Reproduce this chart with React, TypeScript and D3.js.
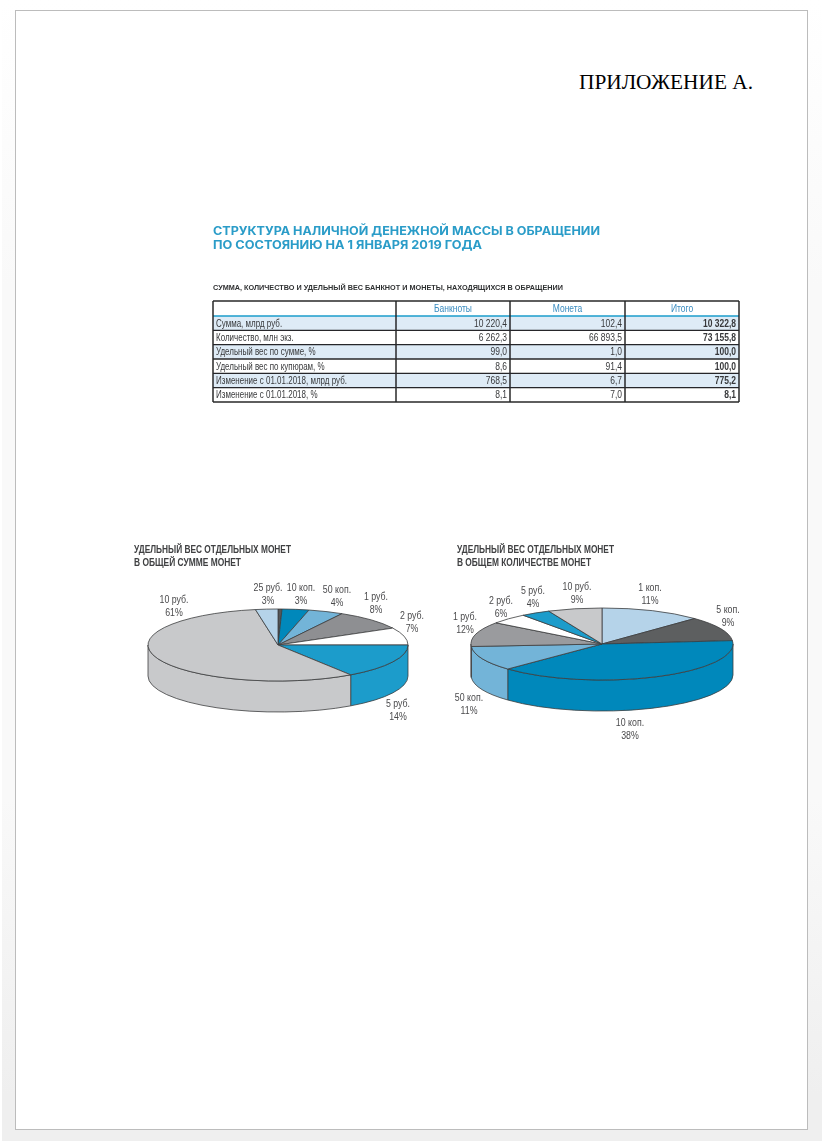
import React from 'react';
import * as d3 from 'd3';

const W = 822;
const H = 1141;

// table
const columns = ['Банкноты', 'Монета', 'Итого'];
const rowNames = [
  'Сумма, млрд руб.',
  'Количество, млн экз.',
  'Удельный вес по сумме, %',
  'Удельный вес по купюрам, %',
  'Изменение с 01.01.2018, млрд руб.',
  'Изменение с 01.01.2018, %',
];
const banknotes = ['10 220,4', '6 262,3', '99,0', '8,6', '768,5', '8,1'];
const coins = ['102,4', '66 893,5', '1,0', '91,4', '6,7', '7,0'];
const totals = ['10 322,8', '73 155,8', '100,0', '100,0', '775,2', '8,1'];

// left pie: drawn size of each slice (degrees), clockwise from the top
const sumNames = ['', '10 коп.', '50 коп.', '1 руб.', '2 руб.', '5 руб.', '10 руб.', '25 руб.'];
const sumLabels = ['', '3%', '4%', '8%', '7%', '14%', '61%', '3%'];
const sumDrawn = [1.8, 12, 15.7, 32.5, 28, 56, 204, 10];
const sumColors = ['#555658', '#0088bb', '#73b4d8', '#8e8f92', '#ffffff', '#1a9ccb', '#c8c9cb', '#b5d3e9'];
const sumLabelAt = [[0, 0], [301, 587], [337, 589], [376, 596], [412, 615], [398, 703], [174, 599], [268, 587]];

// right pie
const countNames = ['1 коп.', '5 коп.', '10 коп.', '50 коп.', '1 руб.', '2 руб.', '5 руб.', '10 руб.'];
const countLabels = ['11%', '9%', '38%', '11%', '12%', '6%', '4%', '9%'];
const countDrawn = [45, 39.6, 141.4, 40, 40, 17, 13, 24];
const countColors = ['#b5d3e9', '#5d5e60', '#0088bb', '#73b4d8', '#9a9b9e', '#ffffff', '#1a9ccb', '#c8c9cb'];
const countLabelAt = [[650, 587], [728, 609], [630, 722], [469, 697], [465, 616], [501, 600], [533, 590], [577, 586]];

const SANS = '"Liberation Sans", sans-serif';

// the original face is condensed, so squeeze Liberation Sans horizontally
const Narrow = ({ x, y, k = 0.82, children, ...rest }: any) => (
  <text transform={`translate(${x},${y}) scale(${k},1)`} {...rest}>
    {children}
  </text>
);

const Pie3D = ({ cx, cy, rx, ry, depth, drawn, colors, names, labels, labelAt }: any) => {
  const slices = d3.pie<number>().sort(null)(drawn);
  const arc = d3.arc<any>().innerRadius(0).outerRadius(rx);
  const px = (t: number) => cx + rx * Math.sin(t);
  const py = (t: number) => cy - ry * Math.cos(t);

  const wall = (a0: number, a1: number) => {
    const s = Math.max(a0, Math.PI / 2);
    const e = Math.min(a1, (Math.PI * 3) / 2);
    if (e <= s) return null;
    return (
      `M${px(s)},${py(s)} A${rx},${ry} 0 0 1 ${px(e)},${py(e)} ` +
      `L${px(e)},${py(e) + depth} A${rx},${ry} 0 0 0 ${px(s)},${py(s) + depth} Z`
    );
  };

  return (
    <g>
      {slices.map((d, i) => {
        const p = wall(d.startAngle, d.endAngle);
        return p ? <path key={i} d={p} fill={colors[i]} stroke="#3c3d3f" strokeWidth={0.8} /> : null;
      })}
      <g transform={`translate(${cx},${cy}) scale(1,${ry / rx})`}>
        {slices.map((d, i) => (
          <path
            key={i}
            d={arc(d) as string}
            fill={colors[i]}
            stroke="#3c3d3f"
            strokeWidth={0.8}
            vectorEffect="non-scaling-stroke"
          />
        ))}
      </g>
      {names.map((n: string, i: number) =>
        n ? (
          <g key={i} fontFamily={SANS} fontSize={10.5} fill="#4a4a4c" textAnchor="middle">
            <Narrow x={labelAt[i][0]} y={labelAt[i][1] + 3.5} k={0.84}>{n}</Narrow>
            <Narrow x={labelAt[i][0]} y={labelAt[i][1] + 16.5} k={0.84}>{labels[i]}</Narrow>
          </g>
        ) : null
      )}
    </g>
  );
};

const Table = () => {
  const colEdges = [213, 396, 510, 625, 739];
  const y = d3.scaleBand<string>().domain(rowNames).range([316, 402]);
  const top = 301;
  const cols = [banknotes, coins, totals];
  const lines = '#26272a';
  return (
    <g fontFamily={SANS} fontSize={10}>
      {rowNames.map((r, i) =>
        i % 2 === 0 ? (
          <rect key={r} x={colEdges[0]} y={y(r)} width={colEdges[4] - colEdges[0]} height={y.bandwidth()} fill="#deebf6" />
        ) : null
      )}
      {rowNames.slice(1).map((r) => (
        <line key={r} x1={colEdges[0]} x2={colEdges[4]} y1={y(r)} y2={y(r)} stroke={lines} strokeWidth={1.4} />
      ))}
      <line x1={colEdges[0]} x2={colEdges[4]} y1={316} y2={316} stroke="#1a9ccb" strokeWidth={1.4} />
      {colEdges.map((x) => (
        <line key={x} x1={x} x2={x} y1={top} y2={402} stroke={lines} strokeWidth={1.5} />
      ))}
      <line x1={colEdges[0]} x2={colEdges[4]} y1={top} y2={top} stroke={lines} strokeWidth={1.5} />
      <line x1={colEdges[0]} x2={colEdges[4]} y1={402} y2={402} stroke={lines} strokeWidth={1.5} />
      {columns.map((c, i) => (
        <Narrow key={c} x={(colEdges[i + 1] + colEdges[i + 2]) / 2} y={312} k={0.85} textAnchor="middle" fill="#3a8cc0">
          {c}
        </Narrow>
      ))}
      {rowNames.map((r, i) => (
        <g key={r} fill="#38393b">
          <Narrow x={216} y={(y(r) as number) + 10.8} k={0.8}>{r}</Narrow>
          {cols.map((col, j) => (
            <Narrow
              key={j}
              x={colEdges[j + 2] - 3}
              y={(y(r) as number) + 10.8}
              k={0.85}
              textAnchor="end"
              fontWeight={j === 2 ? 700 : 400}
            >
              {col[i]}
            </Narrow>
          ))}
        </g>
      ))}
    </g>
  );
};

const ChartTitle = ({ x, lines, widths }: any) => (
  <g fontFamily={SANS} fontSize={10} fontWeight={700} fill="#3f4042">
    {lines.map((l: string, i: number) => (
      <text key={l} x={x} y={553 + i * 13} textLength={widths[i]} lengthAdjust="spacingAndGlyphs">
        {l}
      </text>
    ))}
  </g>
);

export default function App() {
  return (
    <svg width={W} height={H} style={{ position: 'absolute', left: 0, top: 0 }}>
      <defs>
        <linearGradient id="pageBg" x1="0" x2="0" y1="0" y2="1">
          <stop offset="0" stopColor="#ffffff" />
          <stop offset="0.25" stopColor="#f9f9f9" />
          <stop offset="0.7" stopColor="#f9f9f9" />
          <stop offset="0.96" stopColor="#efefef" />
        </linearGradient>
        <filter id="soft" x="-5%" y="-5%" width="110%" height="110%">
          <feGaussianBlur stdDeviation="0.7" />
        </filter>
      </defs>
      <rect x={0} y={0} width={W} height={H} fill="#ffffff" />
      <rect x={2} y={0} width={W - 2} height={H} fill="url(#pageBg)" />
      <rect x={15.5} y={10.5} width={792} height={1119} fill="#ffffff" stroke="#bcbcbc" strokeWidth={1} />

      <text x={579} y={89} fontFamily='"Liberation Serif", serif' fontSize={21} fill="#000" textLength={174} lengthAdjust="spacingAndGlyphs">
        ПРИЛОЖЕНИЕ А.
      </text>

      <g filter="url(#soft)">
        <g fontFamily='Inter, sans-serif' fontSize={11.5} fontWeight={700} fill="#2a9cc8">
          <text x={213} y={235} textLength={387} lengthAdjust="spacingAndGlyphs">СТРУКТУРА НАЛИЧНОЙ ДЕНЕЖНОЙ МАССЫ В ОБРАЩЕНИИ</text>
          <text x={213} y={249} textLength={269} lengthAdjust="spacingAndGlyphs">ПО СОСТОЯНИЮ НА 1 ЯНВАРЯ 2019 ГОДА</text>
        </g>
        <text x={213} y={290} fontFamily={SANS} fontSize={8} fontWeight={700} fill="#2f3032" textLength={350} lengthAdjust="spacingAndGlyphs">
          СУММА, КОЛИЧЕСТВО И УДЕЛЬНЫЙ ВЕС БАНКНОТ И МОНЕТЫ, НАХОДЯЩИХСЯ В ОБРАЩЕНИИ
        </text>
        <Table />
        <ChartTitle x={134} lines={['УДЕЛЬНЫЙ ВЕС ОТДЕЛЬНЫХ МОНЕТ', 'В ОБЩЕЙ СУММЕ МОНЕТ']} widths={[157, 107]} />
        <ChartTitle x={457} lines={['УДЕЛЬНЫЙ ВЕС ОТДЕЛЬНЫХ МОНЕТ', 'В ОБЩЕМ КОЛИЧЕСТВЕ МОНЕТ']} widths={[157, 134]} />
        <Pie3D cx={278} cy={645} rx={130} ry={36} depth={31} drawn={sumDrawn} colors={sumColors} names={sumNames} labels={sumLabels} labelAt={sumLabelAt} />
        <Pie3D cx={602} cy={644} rx={131} ry={36} depth={31} drawn={countDrawn} colors={countColors} names={countNames} labels={countLabels} labelAt={countLabelAt} />
      </g>
    </svg>
  );
}
